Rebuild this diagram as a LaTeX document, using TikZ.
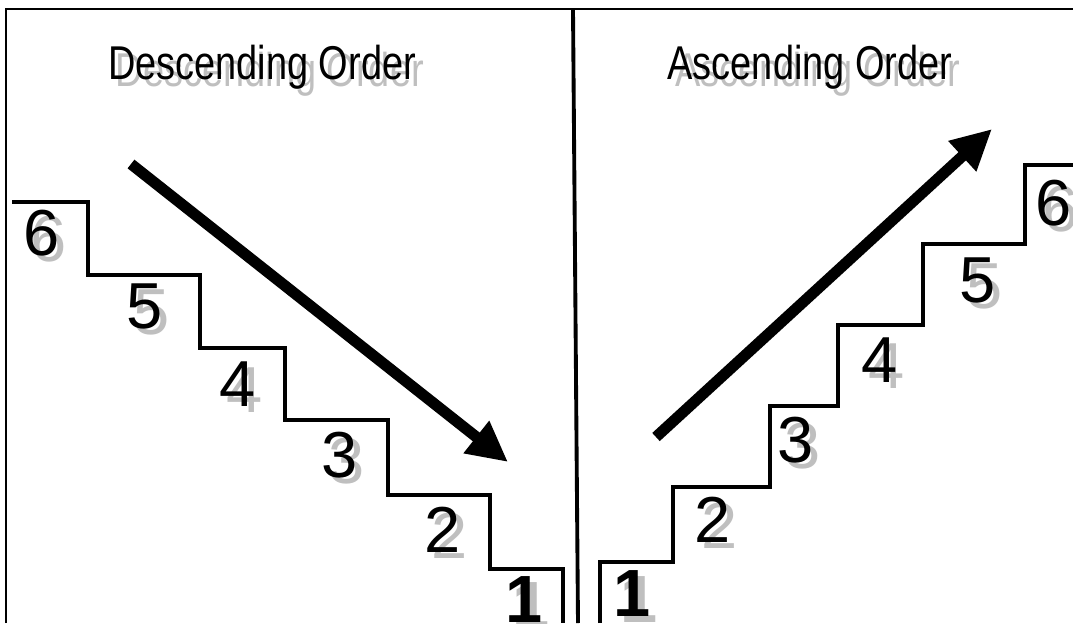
\documentclass[tikz,border=0pt]{standalone}
\usepackage{fontspec}
\setmainfont{Liberation Sans}
\newfontfamily\narrowsans{Liberation Sans}[FakeStretch=0.8]
\usetikzlibrary{arrows.meta}

% gray drop shadow behind a label
\newcommand{\shadowed}[4]{%
  \node[#1, text=black!25, xshift=4pt, yshift=-3.4pt] at (#3) {#4};
  \node[#1] (#2) at (#3) {#4};}

\begin{document}
\begin{tikzpicture}[
    x=0.02cm, y=-0.02cm,
    frame/.style={line width=1.6pt},
    stairs/.style={line width=2.3pt, line join=miter},
    bigarrow/.style={line width=6.3pt, -{Triangle[length=23pt, width=22pt]}},
    num/.style={font=\fontsize{37}{37}\selectfont, inner sep=0pt},
    numbold/.style={font=\fontsize{38}{38}\selectfont\bfseries, inner sep=0pt},
    title/.style={font=\narrowsans\fontsize{27}{27}\selectfont, inner sep=0pt, anchor=base}
]
\useasboundingbox (0,0) rectangle (1073,623);

% --- Frame and divider ---
\draw[frame] (6,623) -- (6,9) -- (1073,9);
\draw[frame, line width=2.2pt] (573,9) -- (578,623);

% --- Titles ---
\node[title, text=black!25, xshift=4.5pt, yshift=-4.5pt] at (262,79) {Descending Order};
\node[title] (desc) at (262,79) {Descending Order};
\node[title, text=black!25, xshift=4.5pt, yshift=-4.5pt] at (810,79) {Ascending Order};
\node[title] (asc) at (810,79) {Ascending Order};

% --- Left stairs (descending) ---
\draw[stairs] (12,202) -- (88,202) -- (88,275) -- (200,275) -- (200,348)
  -- (285,348) -- (285,420) -- (388,420) -- (388,495) -- (490,495)
  -- (490,569) -- (563,569) -- (563,623);

\shadowed{num}{d6}{42,233}{6}
\shadowed{num}{d5}{145,306}{5}
\shadowed{num}{d4}{238,384}{4}
\shadowed{num}{d3}{340,455}{3}
\shadowed{num}{d2}{443,530}{2}
\shadowed{numbold}{d1}{524,600}{1}

% --- Right stairs (ascending) ---
\draw[stairs] (600,623) -- (600,562) -- (673,562) -- (673,487) -- (770,487)
  -- (770,406) -- (838,406) -- (838,325) -- (923,325) -- (923,244)
  -- (1025,244) -- (1025,165) -- (1073,165);

\shadowed{numbold}{a1}{632,594}{1}
\shadowed{num}{a2}{713,520}{2}
\shadowed{num}{a3}{796,440}{3}
\shadowed{num}{a4}{880,360}{4}
\shadowed{num}{a5}{978,280}{5}
\shadowed{num}{a6}{1054,203}{6}

% --- Direction arrows ---
\coordinate (downstart) at (131,164);
\coordinate (downend) at (508,462);
\coordinate (upstart) at (656,437);
\coordinate (upend) at (992,129);
\draw[bigarrow] (downstart) -- (downend);
\draw[bigarrow] (upstart) -- (upend);

\end{tikzpicture}
\end{document}
